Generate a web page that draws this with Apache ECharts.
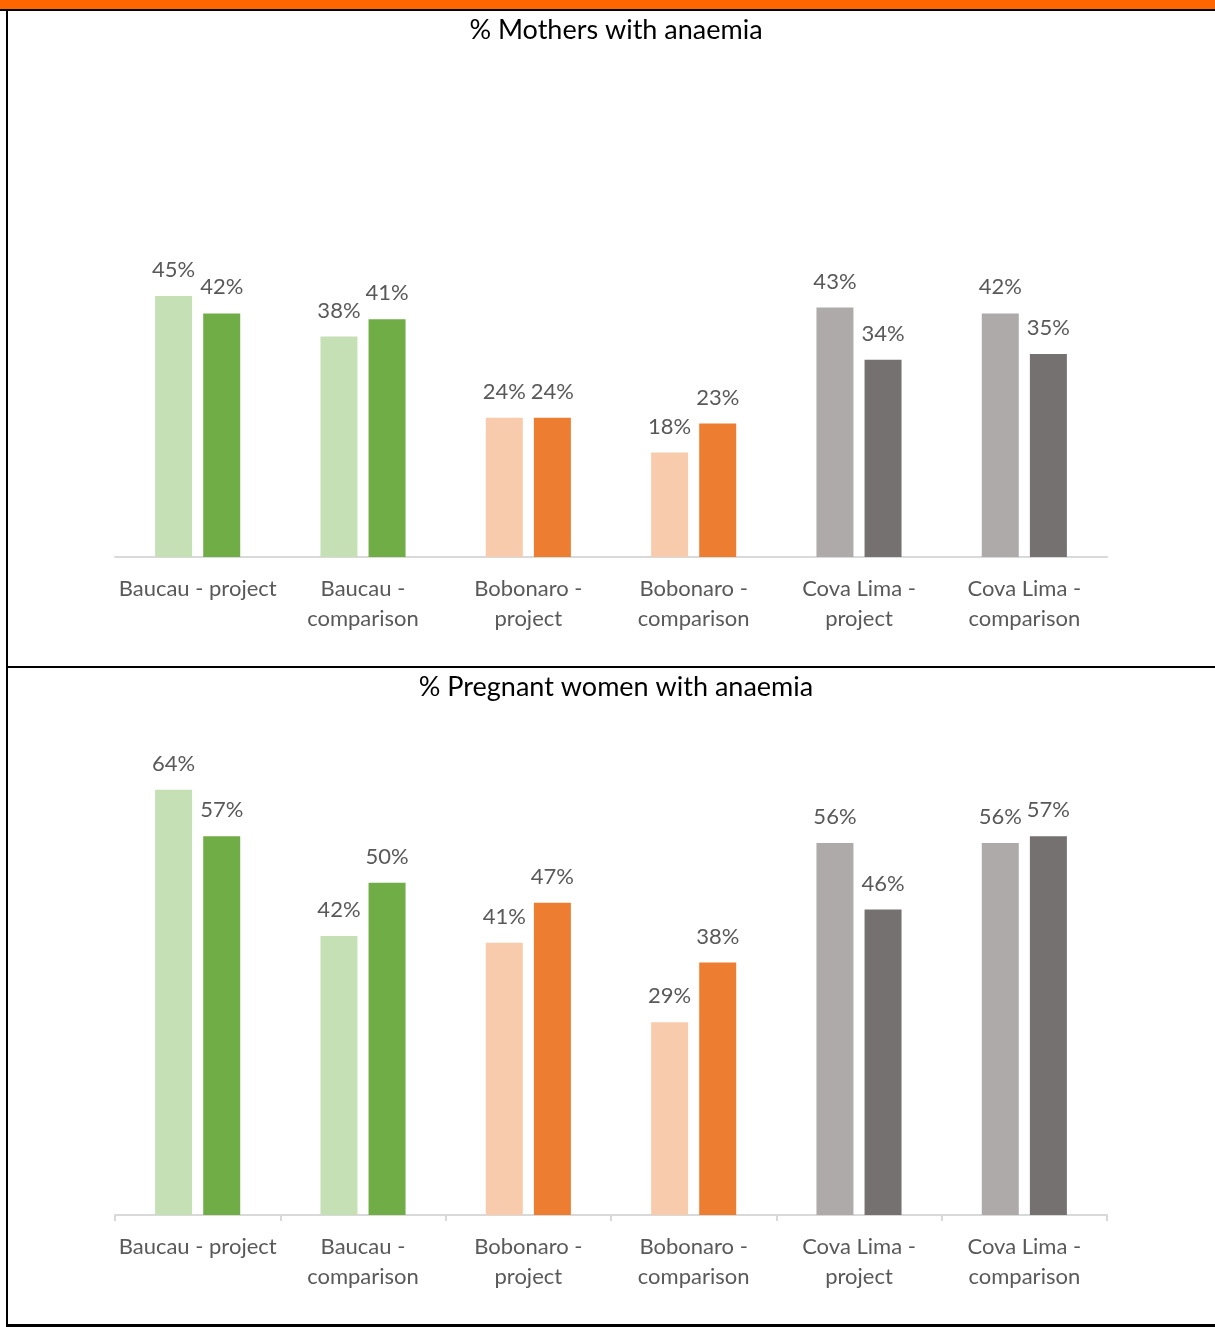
<!DOCTYPE html>
<html>
<head>
<meta charset="utf-8">
<title>Anaemia prevalence</title>
<script src="https://cdn.jsdelivr.net/npm/echarts@6/dist/echarts.min.js"></script>
<style>
  html, body { margin: 0; padding: 0; background: #fff; }
  #chart { width: 1215px; height: 1327px; }
</style>
</head>
<body>
<div id="chart"></div>
<script>
// Districts and study arms shown on both charts
const categories = [
  'Baucau - project',
  'Baucau -\ncomparison',
  'Bobonaro -\nproject',
  'Bobonaro -\ncomparison',
  'Cova Lima -\nproject',
  'Cova Lima -\ncomparison'
];

// % mothers with anaemia (first and second survey round)
const mothersRound1 = [45, 38, 24, 18, 43, 42];
const mothersRound2 = [42, 41, 24, 23, 34, 35];

// % pregnant women with anaemia (first and second survey round)
const pregnantRound1 = [64, 42, 41, 29, 56, 56];
const pregnantRound2 = [57, 50, 47, 38, 46, 57];

// Per-district palette: light tone for round 1, strong tone for round 2
const lightColors = ['#C5E0B4', '#C5E0B4', '#F8CBAD', '#F8CBAD', '#AEAAAA', '#AEAAAA'];
const darkColors  = ['#70AD47', '#70AD47', '#ED7D31', '#ED7D31', '#767171', '#767171'];

const FONT = 'Lato, "Open Sans", sans-serif';
const GREY_TEXT = '#595959';

function colored(values, colors) {
  return values.map((v, i) => ({ value: v, itemStyle: { color: colors[i] } }));
}

function barSeries(values, colors, gridIndex) {
  return {
    type: 'bar',
    xAxisIndex: gridIndex,
    yAxisIndex: gridIndex,
    data: colored(values, colors),
    barWidth: 37,
    barGap: '30%',
    label: {
      show: true,
      position: 'top',
      distance: 15,
      formatter: '{c}%',
      color: GREY_TEXT,
      fontFamily: FONT,
      fontSize: 22,
      lineHeight: 22
    }
  };
}

function xAxis(gridIndex, showTicks) {
  return {
    type: 'category',
    gridIndex: gridIndex,
    data: categories,
    axisLine: { show: true, lineStyle: { color: '#D9D9D9', width: 2 } },
    axisTick: { show: showTicks, length: 6, lineStyle: { color: '#D9D9D9', width: 2 } },
    axisLabel: {
      interval: 0,
      color: GREY_TEXT,
      fontFamily: FONT,
      fontSize: 22,
      lineHeight: 30,
      margin: 17
    }
  };
}

function yAxis(gridIndex, max) {
  return {
    type: 'value',
    gridIndex: gridIndex,
    min: 0,
    max: max,
    show: false,
    splitLine: { show: false }
  };
}

const chart = echarts.init(document.getElementById('chart'), null, { renderer: 'canvas' });

chart.setOption({
  backgroundColor: '#ffffff',
  animation: false,
  title: [
    {
      text: '% Mothers with anaemia',
      left: 611, top: 12, textAlign: 'center',
      textStyle: { color: '#000', fontFamily: FONT, fontSize: 27, fontWeight: 'normal' }
    },
    {
      text: '% Pregnant women with anaemia',
      left: 611, top: 669, textAlign: 'center',
      textStyle: { color: '#000', fontFamily: FONT, fontSize: 27, fontWeight: 'normal' }
    }
  ],
  grid: [
    { left: 115, width: 992, top: 267, height: 290 },
    { left: 115, width: 992, top: 750, height: 465 }
  ],
  xAxis: [xAxis(0, false), xAxis(1, true)],
  yAxis: [yAxis(0, 50), yAxis(1, 70)],
  series: [
    barSeries(mothersRound1, lightColors, 0),
    barSeries(mothersRound2, darkColors, 0),
    barSeries(pregnantRound1, lightColors, 1),
    barSeries(pregnantRound2, darkColors, 1)
  ],
  graphic: [
    // page frame: orange header band and black table rules
    { type: 'rect', shape: { x: 0, y: 0, width: 1215, height: 9 }, style: { fill: '#FF6600' } },
    { type: 'rect', shape: { x: 0, y: 9, width: 1215, height: 2 }, style: { fill: '#000' } },
    { type: 'rect', shape: { x: 6, y: 9, width: 2, height: 1318 }, style: { fill: '#000' } },
    { type: 'rect', shape: { x: 6, y: 666, width: 1209, height: 2 }, style: { fill: '#000' } },
    { type: 'rect', shape: { x: 6, y: 1324, width: 1209, height: 3 }, style: { fill: '#000' } }
  ]
});
</script>
</body>
</html>
